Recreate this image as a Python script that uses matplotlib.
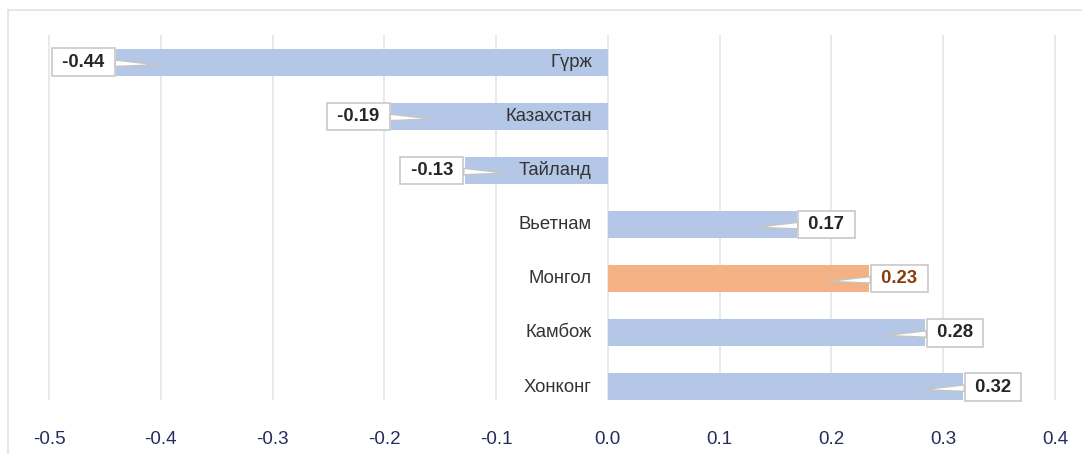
import matplotlib
matplotlib.use("Agg")
import matplotlib.pyplot as plt
from matplotlib.lines import Line2D

categories = ["Гүрж", "Казахстан", "Тайланд", "Вьетнам", "Монгол", "Камбож", "Хонконг"]
values = [-0.44, -0.194, -0.128, 0.169, 0.234, 0.284, 0.318]
highlight = "Монгол"
xticks = [-0.5, -0.4, -0.3, -0.2, -0.1, 0.0, 0.1, 0.2, 0.3, 0.4]
xtick_labels = ["-0.5", "-0.4", "-0.3", "-0.2", "-0.1", "0.0", "0.1", "0.2", "0.3", "0.4"]

plt.rcParams["font.family"] = ["Liberation Sans", "DejaVu Sans"]

W, H = 1082, 454
fig = plt.figure(figsize=(W / 100, H / 100), dpi=100)
ax = fig.add_axes([8 / W, (H - 400) / H, 1 - 8 / W, (400 - 35) / H])

blue = "#b4c7e7"
orange = "#f4b183"
pos = list(range(len(categories)))
colors = [orange if c == highlight else blue for c in categories]
ax.barh(pos, values, height=0.5, color=colors, zorder=2)

ax.set_xlim(-0.5367, 0.4242)
ax.set_ylim(6.24, -0.5)
ax.set_xticks(xticks)
ax.set_xticklabels(xtick_labels)
ax.set_yticks([])
ax.tick_params(axis="x", length=0, pad=22, labelsize=13.5, labelcolor="#262b5e")
for s in ax.spines.values():
    s.set_visible(False)
ax.grid(axis="x", color="#e3e8ef", linewidth=1.3, zorder=0)

for i, (c, v) in enumerate(zip(categories, values)):
    ax.annotate(c, xy=(0, i), xytext=(-11.5, 0), textcoords="offset points",
                ha="right", va="center", fontsize=13.3, color="#333333", zorder=4)
    sign = 1 if v > 0 else -1
    tcol = "#843c0c" if c == highlight else "#262626"
    ax.annotate(" %.2f " % v, xy=(v - sign * 0.036, i + 0.05),
                xytext=(v + sign * 0.006, i), textcoords="data",
                ha="left" if v > 0 else "right", va="center",
                fontsize=13.3, fontweight="bold", color=tcol, zorder=5,
                bbox=dict(boxstyle="square,pad=0.28", fc="white", ec="#c4c4c4", lw=1.1),
                arrowprops=dict(arrowstyle="wedge,tail_width=0.35", fc="white",
                                ec="#c4c4c4", lw=1.0, shrinkA=0, shrinkB=0))

fig.add_artist(Line2D([8 / W, 1], [1 - 10 / H, 1 - 10 / H], color="#dde3ea", lw=1.2))
fig.add_artist(Line2D([8 / W, 8 / W], [0, 1 - 10 / H], color="#dde3ea", lw=1.2))

fig.savefig("out.png", dpi=100)
